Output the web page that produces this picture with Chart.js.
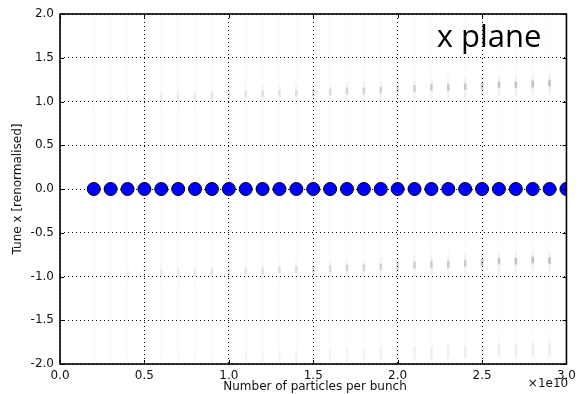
<!DOCTYPE html>
<html>
<head>
<meta charset="utf-8">
<script src="https://cdn.jsdelivr.net/npm/chart.js@4/dist/chart.umd.min.js"></script>
<style>
  html, body { margin: 0; padding: 0; background: #fff; }
  canvas { display: block; }
</style>
</head>
<body>
<canvas id="chart" width="581" height="394"></canvas>
<script>
// Data (x in units of 1e10 particles)
const intensity = [0.2, 0.3, 0.4, 0.5, 0.6, 0.7, 0.8, 0.9, 1.0, 1.1, 1.2, 1.3, 1.4, 1.5,
    1.6, 1.7, 1.8, 1.9, 2.0, 2.1, 2.2, 2.3, 2.4, 2.5, 2.6, 2.7, 2.8, 2.9, 3.0];
const tuneMain = [0, 0, 0, 0, 0, 0, 0, 0, 0, 0, 0, 0, 0, 0, 0, 0, 0, 0, 0, 0, 0, 0, 0, 0, 0, 0, 0, 0, 0];

// faint sideband streaks (0.2 .. 2.9)
const streakX = [0.2, 0.3, 0.4, 0.5, 0.6, 0.7, 0.8, 0.9, 1.0, 1.1, 1.2, 1.3, 1.4, 1.5,
    1.6, 1.7, 1.8, 1.9, 2.0, 2.1, 2.2, 2.3, 2.4, 2.5, 2.6, 2.7, 2.8, 2.9];
const upperTune = [1.01, 1.02, 1.025, 1.03, 1.04, 1.045, 1.055, 1.07, 1.08, 1.085, 1.09, 1.095, 1.095, 1.10,
    1.11, 1.12, 1.12, 1.13, 1.14, 1.15, 1.16, 1.16, 1.17, 1.18, 1.19, 1.19, 1.20, 1.21];
const lowerTune = [-0.99, -0.985, -0.98, -0.965, -0.96, -0.955, -0.955, -0.947, -0.943, -0.935, -0.935, -0.925, -0.92, -0.915,
    -0.91, -0.90, -0.90, -0.89, -0.88, -0.87, -0.86, -0.86, -0.85, -0.84, -0.825, -0.825, -0.81, -0.82];
const farTune = [-1.99, -1.98, -1.98, -1.97, -1.97, -1.96, -1.95, -1.95, -1.94, -1.93, -1.93, -1.92, -1.92, -1.91,
    -1.90, -1.90, -1.89, -1.88, -1.88, -1.87, -1.87, -1.86, -1.86, -1.85, -1.84, -1.84, -1.83, -1.83];

const xTicks = [0.0, 0.5, 1.0, 1.5, 2.0, 2.5, 3.0];
const yTicks = [-2.0, -1.5, -1.0, -0.5, 0.0, 0.5, 1.0, 1.5, 2.0];

const FONT = 'DejaVu Sans';

// streak helpers
function streak(values, lo, hi) {
    return streakX.map((x, i) => ({ x: x, y: [values[i] + lo, values[i] + hi] }));
}
function fade(base, grow) {
    return ctx => `rgba(0,0,0,${(base + grow * ctx.dataIndex / (streakX.length - 1)).toFixed(3)})`;
}

const barCommon = { type: 'bar', barThickness: 2, grouped: false, borderWidth: 0, clip: 0 };

// frame, inward ticks and free text
const decorations = {
    id: 'decorations',
    afterDatasetsDraw(chart) {
        const { ctx, chartArea: a, scales } = chart;
        ctx.save();
        ctx.strokeStyle = '#000';
        ctx.lineWidth = 1;
        ctx.beginPath();
        xTicks.forEach(v => {
            const px = Math.round(scales.x.getPixelForValue(v)) + 0.5;
            ctx.moveTo(px, a.bottom); ctx.lineTo(px, a.bottom - 4);
            ctx.moveTo(px, a.top); ctx.lineTo(px, a.top + 4);
        });
        yTicks.forEach(v => {
            const py = Math.round(scales.y.getPixelForValue(v)) + 0.5;
            ctx.moveTo(a.left, py); ctx.lineTo(a.left + 4, py);
            ctx.moveTo(a.right, py); ctx.lineTo(a.right - 4, py);
        });
        ctx.stroke();
        ctx.lineWidth = 1.6;
        ctx.strokeRect(a.left, a.top, a.right - a.left, a.bottom - a.top);

        ctx.fillStyle = '#111';
        ctx.font = `12px "${FONT}"`;
        ctx.textAlign = 'center';
        ctx.textBaseline = 'middle';
        ctx.fillText('Number of particles per bunch', 315, 387);
        ctx.fillText('\u00d71e10', 548, 384);

        ctx.save();
        ctx.translate(18, 189);
        ctx.rotate(-Math.PI / 2);
        ctx.fillText('Tune x [renormalised]', 0, 0);
        ctx.restore();

        ctx.fillStyle = '#000';
        ctx.font = '31px "Open Sans"';
        ctx.textBaseline = 'alphabetic';
        ctx.fillText('x plane', 489, 47);
        ctx.restore();
    }
};

const gridStyle = { color: '#000', lineWidth: 1, drawTicks: false, offset: false };

new Chart(document.getElementById('chart'), {
    type: 'scatter',
    data: {
        datasets: [
            {
                label: 'tune',
                data: intensity.map((x, i) => ({ x: x, y: tuneMain[i] })),
                backgroundColor: '#0000ff',
                borderColor: '#000',
                borderWidth: 1,
                pointRadius: 6.5,
                clip: 0,
                order: 0
            },
            { ...barCommon, label: 'upper core', data: streak(upperTune, -0.035, 0.035), backgroundColor: fade(0.03, 0.17), order: 1 },
            { ...barCommon, label: 'upper halo', data: streak(upperTune, -0.12, 0.10), backgroundColor: fade(0.012, 0.04), order: 2 },
            { ...barCommon, label: 'lower core', data: streak(lowerTune, -0.035, 0.035), backgroundColor: fade(0.03, 0.17), order: 3 },
            { ...barCommon, label: 'lower halo', data: streak(lowerTune, -0.12, 0.10), backgroundColor: fade(0.012, 0.04), order: 4 },
            { ...barCommon, label: 'far', data: streak(farTune, -0.07, 0.07), backgroundColor: fade(0.008, 0.06), order: 5 },
            { ...barCommon, label: 'background', data: streakX.map(x => ({ x: x, y: [-2, 2] })), backgroundColor: 'rgba(0,0,0,0.012)', order: 6 }
        ]
    },
    options: {
        responsive: false,
        animation: false,
        events: [],
        layout: { padding: { top: 14, right: 11, left: 0, bottom: 0 } },
        plugins: { legend: { display: false }, tooltip: { enabled: false } },
        scales: {
            x: {
                type: 'linear',
                min: 0, max: 3,
                offset: false,
                afterFit: s => { s.height = 30; },
                afterBuildTicks: s => { s.ticks = xTicks.map(v => ({ value: v })); },
                grid: gridStyle,
                border: { display: false, dash: [1, 3] },
                ticks: {
                    padding: 5,
                    color: '#111',
                    font: { family: FONT, size: 12 },
                    maxRotation: 0,
                    callback: v => v.toFixed(1)
                }
            },
            y: {
                type: 'linear',
                min: -2, max: 2,
                offset: false,
                afterFit: s => { s.width = 60; },
                afterBuildTicks: s => { s.ticks = yTicks.map(v => ({ value: v })); },
                grid: gridStyle,
                border: { display: false, dash: [1, 3] },
                ticks: {
                    padding: 6,
                    color: '#111',
                    font: { family: FONT, size: 12 },
                    callback: v => v.toFixed(1)
                }
            }
        }
    },
    plugins: [decorations]
});
</script>
</body>
</html>
